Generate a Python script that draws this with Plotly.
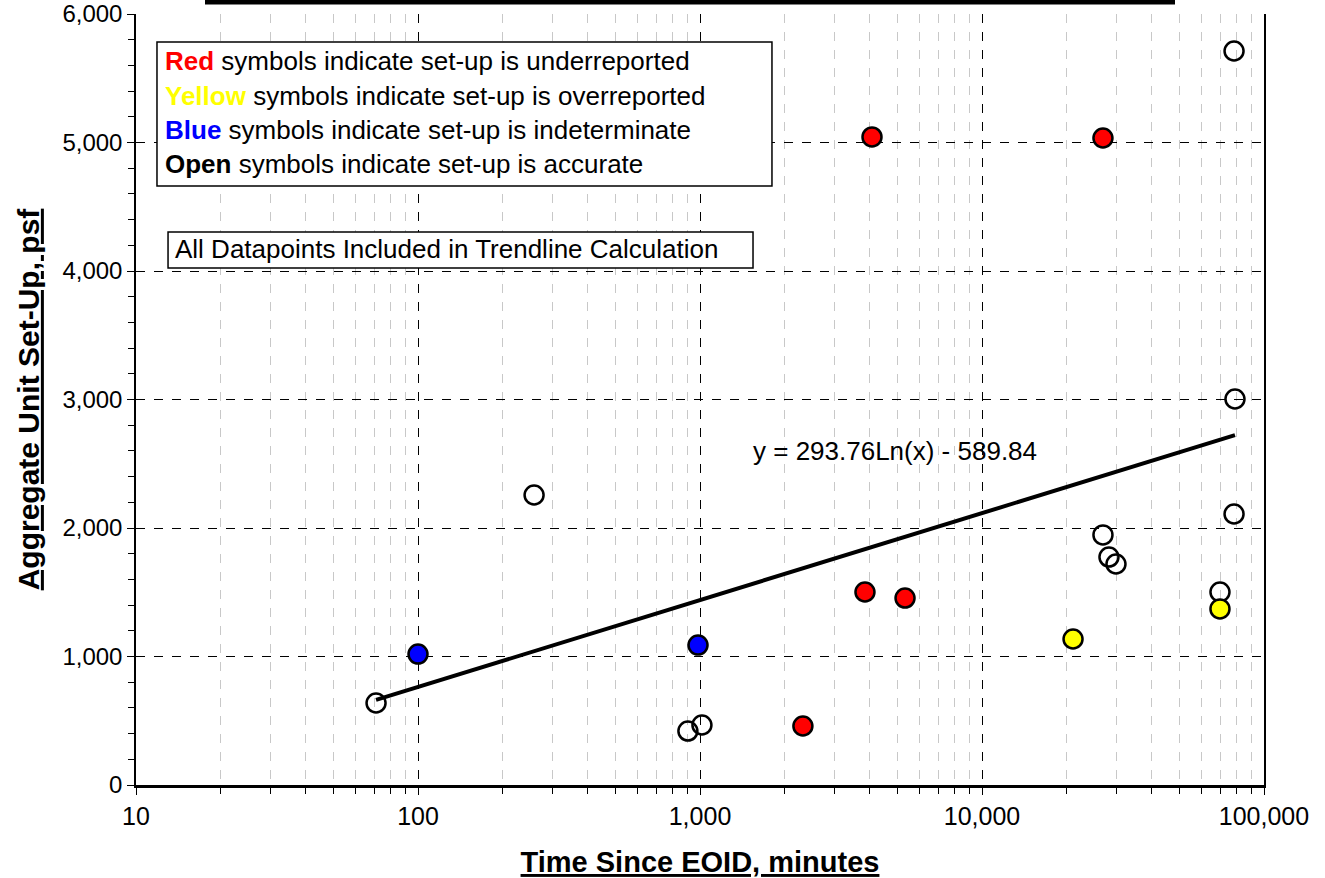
import numpy as np
import plotly.graph_objects as go

# Set-up measurements: time since end of initial drive (minutes) vs aggregate unit set-up (psf)
open_time = [71, 258, 906, 1016, 26850, 28200, 29860, 69800, 78300, 78900, 78300]
open_setup = [638, 2257, 420, 467, 1946, 1774, 1720, 1502, 2109, 3004, 5712]

red_time = [3846, 5334, 2317, 4073, 26850]
red_setup = [1502, 1455, 459, 5043, 5035]

yellow_time = [21030, 69800]
yellow_setup = [1136, 1370]

blue_time = [100, 984]
blue_setup = [1019, 1089]

# Logarithmic trendline fitted to all datapoints
trend_a = 293.76
trend_b = -589.84

x_tickvals = [10, 100, 1000, 10000, 100000]
x_ticktext = ["10", "100", "1,000", "10,000", "100,000"]
x_minor = [m * d for d in [10, 100, 1000, 10000] for m in range(2, 10)]

FONT = "Arial, Liberation Sans, sans-serif"

all_t = open_time + red_time + yellow_time + blue_time
t_line = np.exp(np.linspace(np.log(min(all_t)), np.log(max(all_t)), 50))
s_line = trend_a * np.log(t_line) + trend_b

fig = go.Figure()

marker_line = dict(color="black", width=2.5)
fig.add_trace(go.Scatter(
    x=open_time, y=open_setup, mode="markers",
    marker=dict(symbol="circle-open", size=19, color="black", line=marker_line),
    showlegend=False, hoverinfo="x+y"))
fig.add_trace(go.Scatter(
    x=t_line, y=s_line, mode="lines",
    line=dict(color="black", width=4), showlegend=False, hoverinfo="skip"))
for xs, ys, col in [(red_time, red_setup, "#FF0000"),
                    (yellow_time, yellow_setup, "#FFFF00"),
                    (blue_time, blue_setup, "#0000FF")]:
    fig.add_trace(go.Scatter(
        x=xs, y=ys, mode="markers",
        marker=dict(symbol="circle", size=19, color=col, line=marker_line),
        showlegend=False, hoverinfo="x+y"))

fig.update_xaxes(
    type="log", range=[1, 5], automargin=False,
    tickmode="array", tickvals=x_tickvals, ticktext=x_ticktext,
    tickfont=dict(family=FONT, size=25, color="black"),
    ticks="outside", ticklen=7, tickcolor="black",
    showline=True, linecolor="black", linewidth=2.5,
    showgrid=True, gridcolor="black", griddash="dash", gridwidth=1,
    minor=dict(tickmode="array", tickvals=x_minor, ticks="outside", ticklen=6,
               tickcolor="black", showgrid=True, gridcolor="#C8C8C8",
               griddash="dash", gridwidth=1),
    zeroline=False,
    title=dict(text="<b><u>Time Since EOID, minutes</u></b>",
               font=dict(family=FONT, size=29, color="black"), standoff=24),
)
fig.update_yaxes(
    range=[0, 6000], automargin=False,
    tickmode="linear", tick0=0, dtick=1000, tickformat=",d",
    tickfont=dict(family=FONT, size=24, color="black"),
    ticks="outside", ticklen=7, tickcolor="black",
    showline=True, linecolor="black", linewidth=1.5, mirror=True,
    showgrid=True, gridcolor="black", griddash="dash", gridwidth=1,
    minor=dict(dtick=200, ticks="outside", ticklen=6, tickcolor="black", showgrid=False),
    zeroline=False,
    title=dict(text="<b><u>Aggregate Unit Set-Up, psf</u></b>",
               font=dict(family=FONT, size=30, color="black"), standoff=14),
)

shapes = [
    # explanation box
    dict(type="rect", xref="paper", yref="paper", x0=0.0186, x1=0.5638, y0=0.7769, y1=0.9637,
         fillcolor="white", line=dict(color="black", width=1.5), layer="above"),
    # trendline note box
    dict(type="rect", xref="paper", yref="paper", x0=0.0284, x1=0.547, y0=0.6706, y1=0.7173,
         fillcolor="white", line=dict(color="black", width=1.5), layer="above"),
    # chart title underline
    dict(type="line", xref="paper", yref="paper", x0=(205 - 136) / 1128, x1=(1175 - 136) / 1128,
         y0=(785 - 2) / 771, y1=(785 - 2) / 771, line=dict(color="black", width=5)),
]

legend_lines = [
    ("<b><span style='color:#FF0000'>Red</span></b> symbols indicate set-up is underreported", 61),
    ("<b><span style='color:#FFFF00'>Yellow</span></b> symbols indicate set-up is overreported", 96),
    ("<b><span style='color:#0000FF'>Blue</span></b> symbols indicate set-up is indeterminate", 130),
    ("<b>Open</b> symbols indicate set-up is accurate", 164),
]
annotations = []
for txt, py in legend_lines:
    annotations.append(dict(
        text=txt, xref="paper", yref="paper", x=(163 - 136) / 1128, y=(785 - py) / 771,
        xanchor="left", yanchor="middle", showarrow=False,
        font=dict(family=FONT, size=26, color="black")))
annotations.append(dict(
    text="All Datapoints Included in Trendline Calculation", xref="paper", yref="paper",
    x=(173 - 136) / 1128, y=(785 - 249) / 771, xanchor="left", yanchor="middle",
    showarrow=False, font=dict(family=FONT, size=26, color="black")))
annotations.append(dict(
    text="y = 293.76Ln(x) - 589.84", xref="paper", yref="paper",
    x=(751 - 136) / 1128, y=(785 - 451) / 771, xanchor="left", yanchor="middle",
    showarrow=False, font=dict(family=FONT, size=26, color="black")))

fig.update_layout(
    width=1325, height=878,
    margin=dict(l=136, r=61, t=14, b=93),
    paper_bgcolor="white", plot_bgcolor="white",
    shapes=shapes, annotations=annotations,
    font=dict(family=FONT, color="black"),
)

fig.write_html("out.html")
